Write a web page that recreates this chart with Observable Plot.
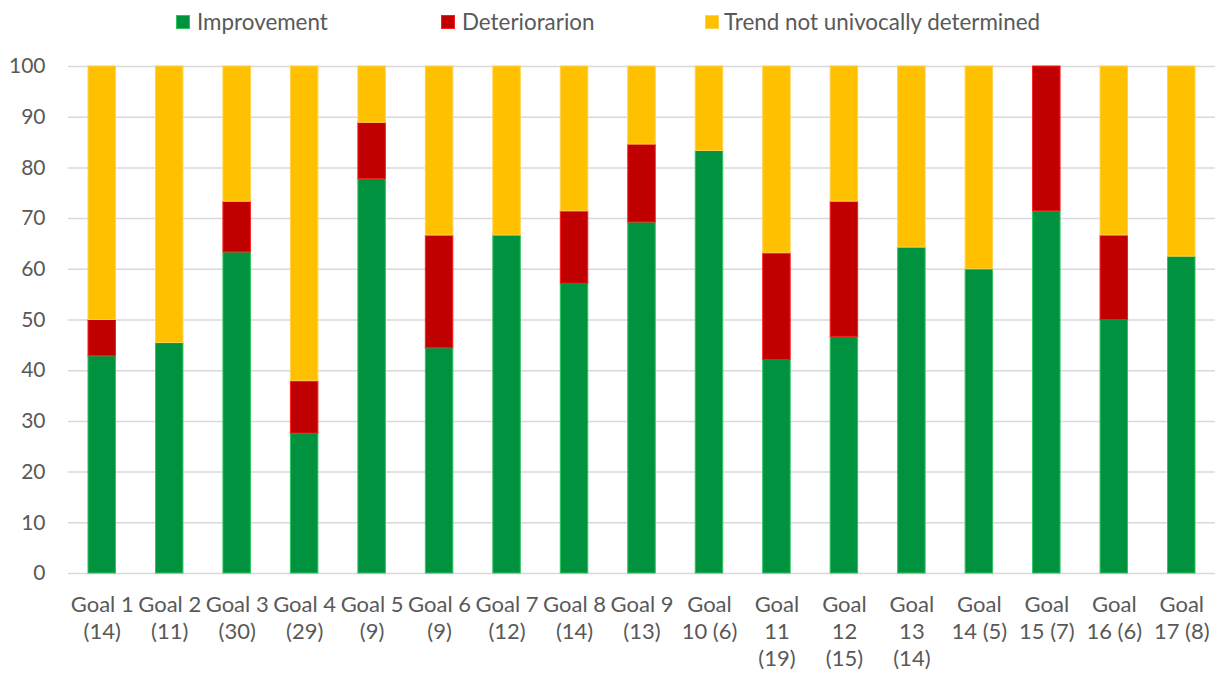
<!DOCTYPE html>
<html>
<head>
<meta charset="utf-8">
<script src="https://cdn.jsdelivr.net/npm/d3@7"></script>
<script src="https://cdn.jsdelivr.net/npm/@observablehq/plot@0.6"></script>
<style>
  html, body { margin: 0; padding: 0; background: #fff; }
  #wrap { position: relative; width: 1215px; height: 675px; font-family: Lato, "Open Sans", sans-serif; }
  #legend { position: relative; height: 40px; }
  .sw { position: absolute; box-sizing: border-box; }
  .lt { position: absolute; font-size: 22.4px; line-height: 27px; color: #595959; white-space: nowrap; }
</style>
</head>
<body>
<div id="wrap">
  <div id="legend"></div>
  <div id="chart"></div>
</div>
<script>
const goals = ["Goal 1","Goal 2","Goal 3","Goal 4","Goal 5","Goal 6","Goal 7","Goal 8","Goal 9","Goal 10","Goal 11","Goal 12","Goal 13","Goal 14","Goal 15","Goal 16","Goal 17"];
const tickLabels = ["Goal 1\n(14)","Goal 2\n(11)","Goal 3\n(30)","Goal 4\n(29)","Goal 5\n(9)","Goal 6\n(9)","Goal 7\n(12)","Goal 8\n(14)","Goal 9\n(13)","Goal\n10 (6)","Goal\n11\n(19)","Goal\n12\n(15)","Goal\n13\n(14)","Goal\n14 (5)","Goal\n15 (7)","Goal\n16 (6)","Goal\n17 (8)"];
const improvement   = [42.86, 45.45, 63.33, 27.59, 77.78, 44.44, 66.67, 57.14, 69.23, 83.33, 42.11, 46.67, 64.29, 60.00, 71.43, 50.00, 62.50];
const deterioration = [7.14, 0, 10.00, 10.34, 11.11, 22.22, 0, 14.29, 15.38, 0, 21.05, 26.67, 0, 0, 28.57, 16.67, 0];
const trendNotDetermined = [50.00, 54.55, 26.67, 62.07, 11.11, 33.33, 33.33, 28.57, 15.38, 16.67, 36.84, 26.67, 35.71, 40.00, 0, 33.33, 37.50];
const seriesNames = ["Improvement", "Deteriorarion", "Trend not univocally determined"];
const yTicks = [0,10,20,30,40,50,60,70,80,90,100];

const fills = {"Improvement": "#00923f", "Deteriorarion": "#c00000", "Trend not univocally determined": "#ffc000"};
const strokes = {"Improvement": "#2fc35f", "Deteriorarion": "#ff1a1a", "Trend not univocally determined": "#ffd24d"};

const data = [];
goals.forEach((g, i) => {
  data.push({goal: g, series: seriesNames[0], value: improvement[i]});
  data.push({goal: g, series: seriesNames[1], value: deterioration[i]});
  data.push({goal: g, series: seriesNames[2], value: trendNotDetermined[i]});
});
const labelOf = new Map(goals.map((g, i) => [g, tickLabels[i]]));

// Legend
const legend = document.getElementById("legend");
const legendItems = [
  {name: seriesNames[0], sx: 176, tx: 197},
  {name: seriesNames[1], sx: 441, tx: 462},
  {name: seriesNames[2], sx: 705, tx: 724}
];
legendItems.forEach(it => {
  const s = document.createElement("div");
  s.className = "sw";
  s.style.left = it.sx + "px"; s.style.top = "15px";
  s.style.width = "14px"; s.style.height = "14px";
  s.style.background = fills[it.name];
  s.style.border = "1px solid " + strokes[it.name];
  legend.appendChild(s);
  const t = document.createElement("div");
  t.className = "lt";
  t.style.left = it.tx + "px"; t.style.top = "8px";
  t.textContent = it.name;
  legend.appendChild(t);
});

const chart = Plot.plot({
  width: 1215,
  height: 635,
  marginTop: 26,
  marginBottom: 102,
  marginLeft: 68,
  marginRight: 0,
  style: {fontFamily: "Lato, 'Open Sans', sans-serif", fontSize: "21px", color: "#595959", background: "#fff", overflow: "visible"},
  x: {domain: goals, padding: 0, round: false, label: null},
  y: {domain: [0, 100], label: null},
  marks: [
    Plot.gridY(yTicks, {stroke: "#d9d9d9", strokeOpacity: 1, strokeWidth: 1.5}),
    Plot.barY(data, {
      x: "goal", y: "value", order: seriesNames,
      fill: d => fills[d.series],
      stroke: d => strokes[d.series],
      strokeWidth: 1,
      insetLeft: 20, insetRight: 20
    }),
    Plot.axisY({ticks: yTicks, tickSize: 0, tickPadding: 23, fontSize: 21, fill: "#595959", label: null}),
    Plot.axisX({tickSize: 0, tickPadding: 19, fontSize: 22, fill: "#595959", lineHeight: 1.24, tickFormat: d => labelOf.get(d), label: null})
  ]
});
document.getElementById("chart").appendChild(chart);
</script>
</body>
</html>
